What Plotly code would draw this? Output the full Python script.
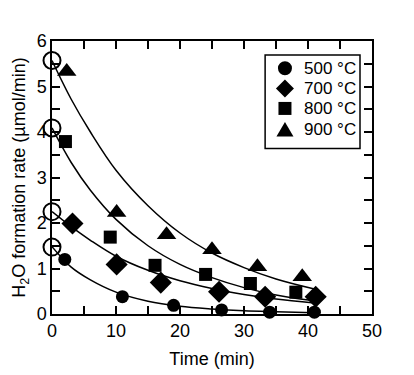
import plotly.graph_objects as go

# measured points
t500 = [2.0, 11.0, 19.0, 26.5, 34.0, 41.0]
r500 = [1.2, 0.38, 0.19, 0.09, 0.04, 0.04]
t700 = [3.2, 10.1, 17.0, 26.1, 33.3, 41.2]
r700 = [1.99, 1.09, 0.69, 0.49, 0.38, 0.38]
t800 = [2.1, 9.1, 16.1, 24.0, 31.0, 38.1]
r800 = [3.79, 1.69, 1.07, 0.87, 0.67, 0.48]
t900 = [2.3, 10.1, 17.9, 25.0, 32.1, 39.1]
r900 = [5.33, 2.23, 1.74, 1.41, 1.04, 0.82]

# initial (open circle) values
t0 = [0, 0, 0, 0]
r0 = [5.57, 4.09, 2.25, 1.47]

# fitted curves
tc = [0, 3, 6, 10, 15, 20, 25, 30, 35, 41]
c500 = [1.48, 1.03, 0.75, 0.48, 0.28, 0.17, 0.11, 0.07, 0.05, 0.03]
c700 = [2.25, 1.92, 1.62, 1.27, 0.96, 0.73, 0.56, 0.43, 0.33, 0.24]
c800 = [4.09, 3.33, 2.72, 2.08, 1.50, 1.09, 0.80, 0.58, 0.42, 0.29]
c900 = [5.57, 4.72, 4.0, 3.16, 2.38, 1.78, 1.34, 1.02, 0.77, 0.55]

labels = ["500 °C", "700 °C", "800 °C", "900 °C"]

FONT = "Liberation Sans, Arial, sans-serif"
fig = go.Figure()

for c in [c500, c700, c800, c900]:
    fig.add_trace(go.Scatter(x=tc, y=c, mode="lines", line=dict(color="black", width=1.5, shape="spline"),
                             showlegend=False, hoverinfo="skip"))

fig.add_trace(go.Scatter(x=t0, y=r0, mode="markers", showlegend=False, cliponaxis=False,
                         marker=dict(symbol="circle-open", size=17, color="black", line=dict(width=2))))

series = [(t500, r500, "circle", 13), (t700, r700, "diamond", 17),
          (t800, r800, "square", 13), (t900, r900, "triangle-up", 17)]
for (t, r, sym, sz), lab in zip(series, labels):
    fig.add_trace(go.Scatter(x=t, y=r, mode="markers", name=lab, cliponaxis=False, showlegend=False,
                             marker=dict(symbol=sym, size=sz, color="black")))

axis_common = dict(showline=True, linecolor="black", linewidth=1.5, mirror="ticks",
                   ticks="inside", ticklen=8, tickwidth=1.5, tickcolor="black",
                   showgrid=False, zeroline=False, automargin=False,
                   tickfont=dict(family=FONT, size=18, color="black"))

fig.update_xaxes(range=[0, 50], dtick=10, tick0=0,
                 minor=dict(dtick=5, ticks="inside", ticklen=8, tickwidth=1.5, tickcolor="black"),
                 title=dict(text="Time (min)", font=dict(family=FONT, size=18, color="black"), standoff=12),
                 **axis_common)
fig.update_yaxes(range=[0, 6], dtick=1, tick0=0,
                 minor=dict(dtick=0.5, ticks="inside", ticklen=8, tickwidth=1.5, tickcolor="black"),
                 title=dict(text="H<sub>2</sub>O formation rate (µmol/min)",
                            font=dict(family=FONT, size=18, color="black"), standoff=6),
                 **axis_common)

# ---- legend box drawn as shapes + annotations (tighter row spacing than plotly's legend)
box_x0, box_x1, box_y0, box_y1 = 0.666, 0.9625, 0.606, 0.949
fig.add_shape(type="rect", xref="paper", yref="paper", x0=box_x0, x1=box_x1, y0=box_y0, y1=box_y1,
              line=dict(color="black", width=1.5), fillcolor="white", layer="above")
row_y = [0.9, 0.826, 0.753, 0.674]
mk_x = 0.728
glyphs = [
    dict(type="circle", x0=-7, x1=7, y0=-7, y1=7),
    dict(type="path", path="M -9 0 L 0 9 L 9 0 L 0 -9 Z"),
    dict(type="rect", x0=-6.5, x1=6.5, y0=-6.5, y1=6.5),
    dict(type="path", path="M -8.5 -6.5 L 8.5 -6.5 L 0 8 Z"),
]
for g, yy, lab in zip(glyphs, row_y, labels):
    fig.add_shape(xref="paper", yref="paper", xsizemode="pixel", ysizemode="pixel",
                  xanchor=mk_x, yanchor=yy, fillcolor="black", line=dict(color="black", width=0),
                  layer="above", **g)
    fig.add_annotation(xref="paper", yref="paper", x=0.78, y=yy, text=lab, showarrow=False,
                       xanchor="left", yanchor="middle",
                       font=dict(family=FONT, size=17, color="black"))

# page body has an 8px margin, so the figure is drawn 8px smaller and offset
fig.update_layout(
    width=406, height=367,
    margin=dict(l=44, r=42, t=33, b=61, autoexpand=False),
    paper_bgcolor="white", plot_bgcolor="white",
    font=dict(family=FONT, size=18, color="black"),
    showlegend=False,
)

fig.write_html("out.html")
